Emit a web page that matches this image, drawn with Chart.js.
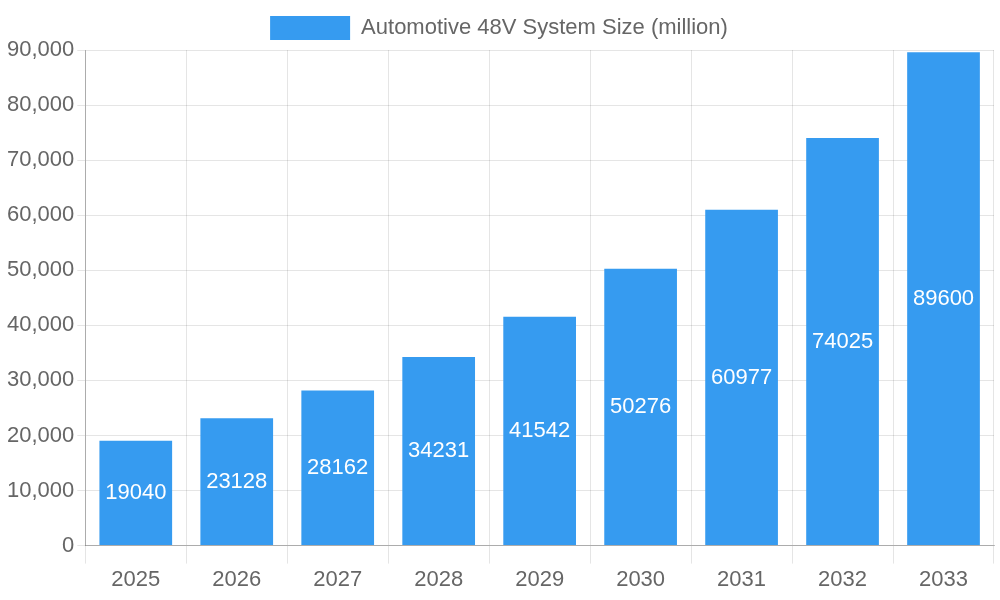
<!DOCTYPE html>
<html>
<head>
<meta charset="utf-8">
<script src="https://cdn.jsdelivr.net/npm/chart.js@4"></script>
<style>
  html, body { margin: 0; padding: 0; background: #fff; }
  #wrap { width: 1000px; height: 600px; }
</style>
</head>
<body>
<div id="wrap"><canvas id="chart"></canvas></div>
<script>
const years = ['2025', '2026', '2027', '2028', '2029', '2030', '2031', '2032', '2033'];
const systemSize = [19040, 23128, 28162, 34231, 41542, 50276, 60977, 74025, 89600];
const seriesLabel = 'Automotive 48V System Size (million)';

// valores en blanco centrados en cada barra
const barValues = {
    id: 'barValues',
    afterDatasetsDraw(chart) {
        const ctx = chart.ctx;
        const meta = chart.getDatasetMeta(0);
        ctx.save();
        ctx.fillStyle = '#fff';
        ctx.font = '22px "Liberation Sans", Arial, sans-serif';
        ctx.textAlign = 'center';
        ctx.textBaseline = 'middle';
        meta.data.forEach((bar, i) => {
            const mid = (bar.y + bar.base) / 2;
            ctx.fillText(systemSize[i], bar.x, mid);
        });
        ctx.restore();
    }
};

Chart.defaults.font.family = '"Liberation Sans", Arial, sans-serif';
Chart.defaults.font.size = 22;
Chart.defaults.color = '#666';

new Chart(document.getElementById('chart'), {
    type: 'bar',
    data: {
        labels: years,
        datasets: [{
            label: seriesLabel,
            data: systemSize,
            backgroundColor: '#369bf0',
            borderWidth: 0
        }]
    },
    options: {
        responsive: true,
        maintainAspectRatio: false,
        animation: false,
        layout: { padding: { left: 4, right: 6, top: 4, bottom: 4 } },
        plugins: {
            legend: {
                position: 'top',
                labels: { boxWidth: 80, boxHeight: 24, padding: 12 }
            },
            tooltip: { enabled: false }
        },
        scales: {
            x: {
                grid: { color: 'rgba(0,0,0,0.1)', tickLength: 18 },
                border: { color: 'rgba(0,0,0,0.25)' }
            },
            y: {
                min: 0,
                max: 90000,
                ticks: { stepSize: 10000 },
                grid: { color: 'rgba(0,0,0,0.1)', tickLength: 8 },
                border: { color: 'rgba(0,0,0,0.25)' }
            }
        }
    },
    plugins: [barValues]
});
</script>
</body>
</html>
